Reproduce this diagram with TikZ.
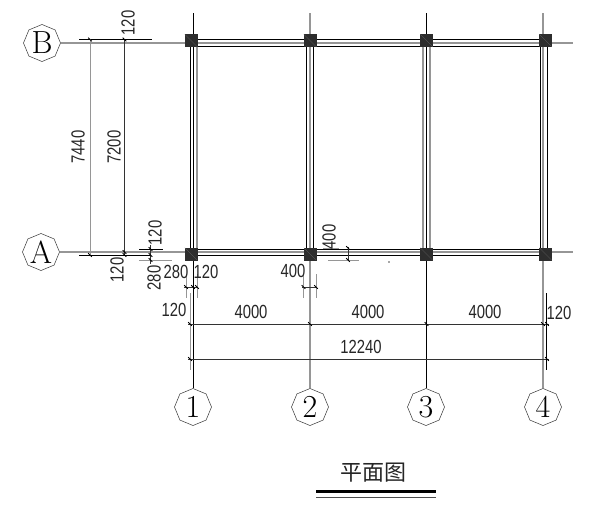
\documentclass[tikz,border=0pt]{standalone}
\usepackage{fontspec}
\setsansfont[FakeStretch=0.78]{Liberation Sans}
\newfontfamily\cjkfont{Noto Sans CJK SC}
\usetikzlibrary{shapes.geometric, positioning, calc}
\definecolor{axisgray}{RGB}{150, 150, 150}
\definecolor{columnblack}{RGB}{45, 45, 45}

\tikzset{
  axisline/.style={draw=axisgray, line width=1.2pt},
  wallline/.style={draw=black, line width=0.7pt},
  dimline/.style={draw=black!80, line width=0.6pt},
  extline/.style={draw=axisgray, line width=1pt},
  bubble/.style={draw=black!80, line width=0.5pt, regular polygon, regular polygon sides=8, shape border rotate=22.5, minimum size=37pt, inner sep=0pt, font=\fontsize{32}{32}\selectfont},
  column/.style={draw=columnblack, fill=columnblack, minimum size=12pt, inner sep=0pt},
  dimtext/.style={inner sep=0pt, text=black!85, font=\sffamily\fontsize{19}{19}\selectfont},
  dimvert/.style={dimtext, rotate=90}
}

\begin{document}
\begin{tikzpicture}[x=1pt, y=-1pt]
  \useasboundingbox (0,0) rectangle (604,511);

  % axis bubbles
  \node[bubble] (axisB) at (42,43) {B};
  \node[bubble] (axisA) at (41,252) {A};
  \node[bubble] (axisone) at (193,407) {1};
  \node[bubble] (axistwo) at (310,407) {2};
  \node[bubble] (axisthree) at (426,407) {3};
  \node[bubble] (axisfour) at (543,407) {4};

  % free ends of the axes
  \coordinate (endB) at (573,43);
  \coordinate (endA) at (573,252);
  \coordinate (topone) at (193,13);
  \coordinate (toptwo) at (310,13);
  \coordinate (topthree) at (426,13);
  \coordinate (topfour) at (543,13);

  \draw[axisline] (axisB) -- (endB);
  \draw[axisline] (axisA) -- (endA);
  \draw[wallline] (axisone) -- (topone);
  \draw[axisline] (axistwo) -- (toptwo);
  \draw[wallline] (axisthree) -- (topthree);
  \draw[axisline] (axisfour) -- (topfour);

  % walls
  \foreach \wy in {39.5, 46.5, 249, 255.5}
    \draw[wallline] (191,\wy) -- (545,\wy);
  \foreach \wx/\wl in {190/wallline, 197/axisline, 306.5/wallline, 313.5/wallline, 423/axisline, 430/axisline, 540/wallline, 547/wallline}
    \draw[\wl] (\wx,40) -- (\wx,254);

  % columns
  \foreach \cx/\cn in {191/one, 310/two, 426.5/three, 545.5/four} {
    \node[column] (colB\cn) at (\cx,40.5) {};
    \node[column] (colA\cn) at (\cx,254) {};
    \draw[axisgray!70!black, line width=0.2pt] (colB\cn.north west) -- (colB\cn.south east);
    \draw[axisgray!70!black, line width=0.2pt] (colA\cn.north west) -- (colA\cn.south east);
  }

  % left dimensions
  \draw[wallline] (79,39.5) -- (152,39.5);
  \draw[wallline] (79,255) -- (150,255);
  \draw[extline] (90,39.5) -- (90,255);
  \draw[dimline] (124.5,39.5) -- (124.5,255);
  \draw[wallline] (139,249) -- (163,249);
  \draw[extline] (139,260) -- (172,260);
  \draw[dimline] (150.5,245) -- (150.5,264);

  % dimensions under the plan
  \draw[dimline] (188,324) -- (549,324);
  \draw[dimline] (188,359) -- (549,359);
  \draw[dimline] (184,287) -- (198,287);
  \draw[dimline] (302,287) -- (317,287);
  \foreach \ex in {186, 197, 303.5, 316}
    \draw[extline] (\ex,274) -- (\ex,298);
  \draw[extline] (190,293) -- (190,370);
  \draw[wallline] (546.7,293) -- (546.7,370);

  % dimension 400 at the wall
  \draw[dimline] (348,247) -- (348,261);
  \draw[extline] (323,248) -- (339,248);
  \draw[extline] (328,260) -- (359,260);
  \fill[black!70] (389,262) circle (0.8pt);

  % ticks
  \foreach \tx/\ty in {90/39.5, 124.5/39.5, 90/255, 124.5/252, 124.5/255, 150.5/249, 150.5/255, 150.5/260, 186/287, 193/287, 197/287, 303.5/287, 316/287, 190/324, 310/324, 426.5/324, 543/324, 547/324, 190/359, 547/359, 348/248, 348/260}
    \draw[black, line width=0.9pt] (\tx-1.8,\ty-1.8) -- (\tx+1.8,\ty+1.8);

  % dimension texts
  \node[dimvert] (dimtop) at (128,23) {120};
  \node[dimvert] (dimouter) at (78,147) {7440};
  \node[dimvert] (diminner) at (114,147) {7200};
  \node[dimvert] (dimlowA) at (117,270) {120};
  \node[dimvert] (dimwallA) at (155,233) {120};
  \node[dimvert] (dimcolA) at (154,278) {280};
  \node[dimvert] (dimwalltwo) at (329,237) {400};
  \node[dimtext] (dimcolone) at (176,272) {280};
  \node[dimtext] (dimwallone) at (206,272) {120};
  \node[dimtext] (dimcoltwo) at (293,271) {400};
  \node[dimtext] (dimleft) at (174,310) {120};
  \node[dimtext] (dimright) at (559,313) {120};
  \foreach \sx/\sn in {251/a, 368/b, 485/c}
    \node[dimtext] (span\sn) at (\sx,312) {4000};
  \node[dimtext] (dimtotal) at (361,347) {12240};

  % title
  \node[inner sep=0pt, text=black!85, font=\cjkfont\fontsize{22}{22}\selectfont] (title) at (373,473) {平面图};
  \coordinate (ruleL) at (316,491.5);
  \coordinate (ruleR) at (436,491.5);
  \draw[black, line width=3pt] (ruleL) -- (ruleR);
  \draw[black!70, line width=1pt] ($(ruleL)+(0,5.5)$) -- ($(ruleR)+(0,5.5)$);
\end{tikzpicture}
\end{document}
